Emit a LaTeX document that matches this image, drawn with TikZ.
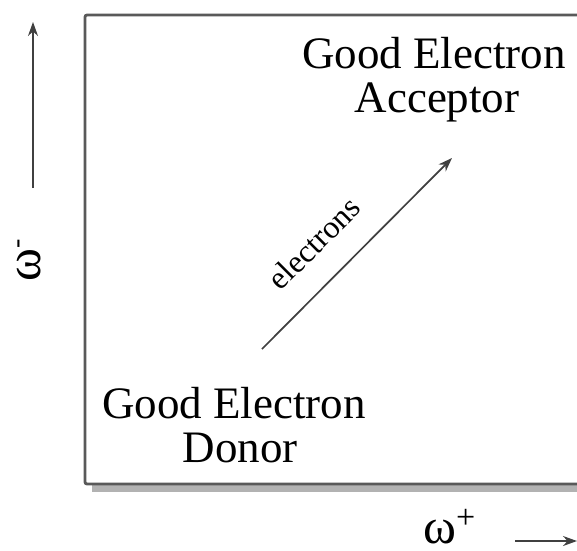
\documentclass[tikz,border=0pt]{standalone}
\usepackage{fontspec}
\setmainfont{Liberation Serif}
\usetikzlibrary{arrows.meta}
\begin{document}
\begin{tikzpicture}[x=1pt,y=-1pt,
  bigtext/.style={font=\fontsize{45}{44}\selectfont, inner sep=0pt, anchor=base},
  smalltext/.style={font=\fontsize{32}{32}\selectfont, inner sep=0pt},
  omega/.style={font=\fontsize{50}{50}\selectfont, inner sep=0pt, anchor=base west},
  arr/.style={-{Stealth[length=14pt,width=10pt]}, line width=1.7pt, draw=black!75},
]
\clip (0,0) rectangle (577,550);
% frame with shadow
\fill[black!30] (92,21) rectangle (605,492);
\draw[line width=2.8pt, draw=black!65, fill=white, rounded corners=2pt] (85,15) rectangle (600,484);
% texts
\node[bigtext] (accA) at (434,68) {Good Electron};
\node[bigtext] (accB) at (437,112) {Acceptor};
\node[bigtext] (donA) at (234,418) {Good Electron};
\node[bigtext] (donB) at (240,462) {Donor};
% diagonal arrow
\coordinate (dstart) at (262,349);
\coordinate (dend) at (452,158);
\draw[arr] (dstart) -- (dend);
\node[smalltext, rotate=45] (elec) at (314,243) {electrons};
% axes
\coordinate (vs) at (33,188);
\coordinate (ve) at (33,22);
\draw[arr] (vs) -- (ve);
\coordinate (hs) at (515,541);
\coordinate (he) at (577,541);
\draw[arr] (hs) -- (he);
\node[omega] (wplus) at (423,543) {ω\raisebox{15pt}{\fontsize{34}{34}\selectfont +}};
\node[omega, rotate=90] (wminus) at (40,282) {ω\raisebox{15pt}{\fontsize{28}{28}\selectfont -}};
\end{tikzpicture}
\end{document}
